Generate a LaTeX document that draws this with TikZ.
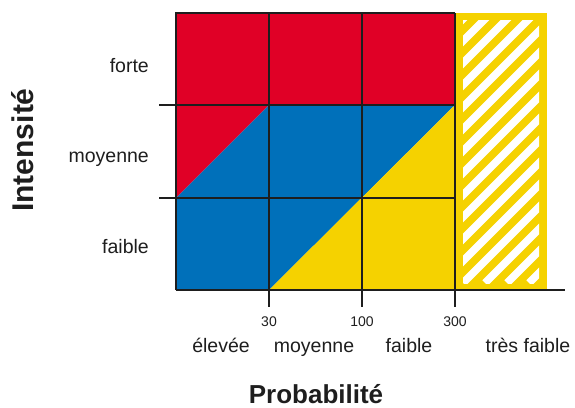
\documentclass[tikz,border=0pt]{standalone}
\usepackage{fontspec}
\setmainfont{Liberation Sans}
\definecolor{rred}{RGB}{224,0,38}
\definecolor{bblue}{RGB}{0,112,186}
\definecolor{yyellow}{RGB}{245,210,0}
\definecolor{ink}{RGB}{30,30,30}
\begin{document}
\begin{tikzpicture}[x=1pt,y=-1pt,
  gridline/.style={line width=1.5pt, draw=ink},
  lab/.style={font=\fontsize{19.5}{22}\selectfont, text=ink, inner sep=0pt},
  num/.style={font=\fontsize{14}{16}\selectfont, text=ink, inner sep=0pt},
  axtitle/.style={font=\fontsize{26}{28}\selectfont\bfseries, text=ink, inner sep=0pt},
  stripe/.style={white, line width=7.5pt}]
\useasboundingbox (0,0) rectangle (575,407);
% coloured zones
\fill[rred] (176,13) rectangle (455,105);
\fill[rred] (176,105) -- (269,105) -- (176,198) -- cycle;
\fill[bblue] (176,198) -- (269,105) -- (455,105) -- (269,290) -- (176,290) -- cycle;
\fill[yyellow] (269,290) -- (455,105) -- (455,290) -- cycle;
% hatched zone
\fill[yyellow] (455,13) rectangle (547,290);
\begin{scope}
\clip (463,20) rectangle (539,283);
\foreach \i in {-14,...,4} \draw[stripe] (463+\i*22,283) -- ++(320,-320);
\end{scope}
% grid
\draw[gridline] (176,290) -- (176,13) -- (455,13);
\draw[gridline] (159,105) -- (455,105);
\draw[gridline] (159,198) -- (455,198);
\draw[gridline] (269,13) -- (269,307);
\draw[gridline] (362,13) -- (362,307);
\draw[gridline] (455,13) -- (455,307);
\draw[gridline] (176,290) -- (565,290);
% labels
\node[lab, anchor=base east] (lforte) at (149,72) {forte};
\node[lab, anchor=base east] (lmoy) at (149,162) {moyenne};
\node[lab, anchor=base east] (lfaib) at (149,253) {faible};
\node[num, anchor=base] (n30) at (269,326) {30};
\node[num, anchor=base] (n100) at (362,326) {100};
\node[num, anchor=base] (n300) at (455,326) {300};
\node[lab, anchor=base] (pelev) at (221,352) {élevée};
\node[lab, anchor=base] (pmoy) at (314,352) {moyenne};
\node[lab, anchor=base] (pfaib) at (409,352) {faible};
\node[lab, anchor=base] (ptres) at (528,352) {très faible};
\node[axtitle, anchor=base] (prob) at (316,403) {Probabilité};
\node[axtitle, font=\fontsize{30}{32}\selectfont\bfseries, rotate=90, anchor=base] (inten) at (33,150) {Intensité};
\end{tikzpicture}
\end{document}
